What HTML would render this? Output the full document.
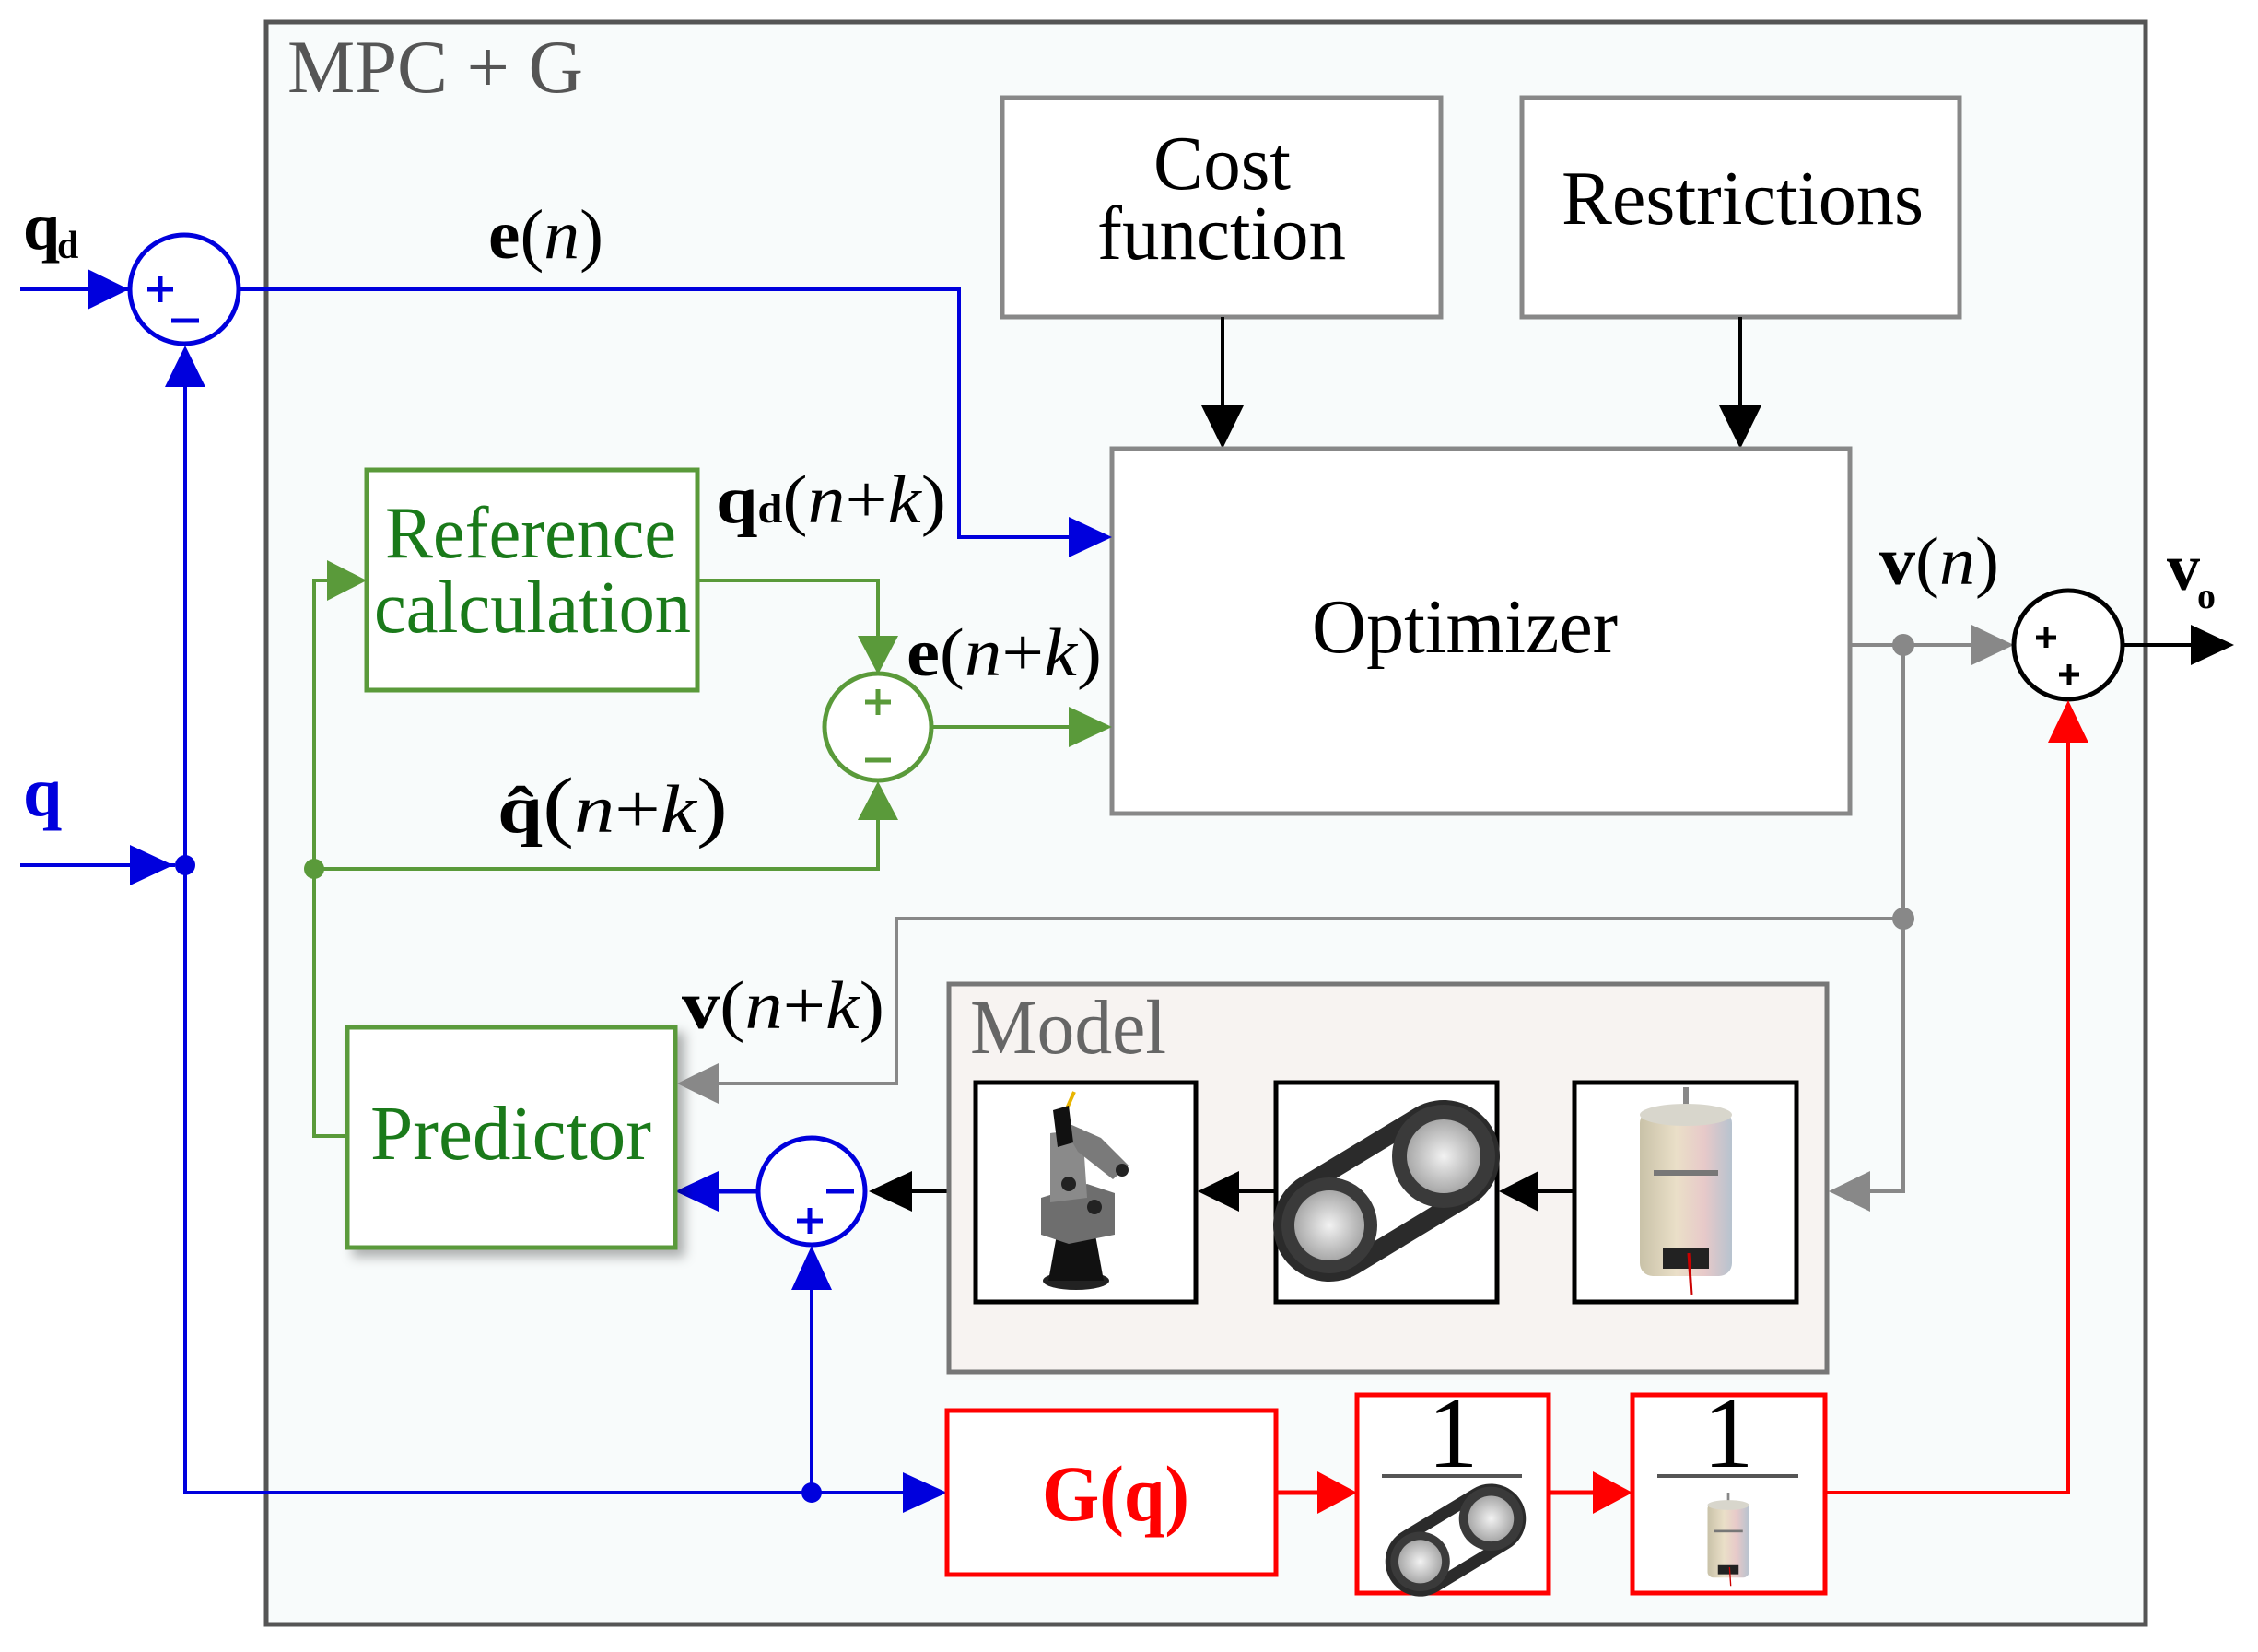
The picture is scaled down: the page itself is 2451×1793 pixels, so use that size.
<!DOCTYPE html>
<html><head><meta charset="utf-8"><style>
html,body{margin:0;padding:0;background:#fff}
svg{display:block}
text{font-family:"Liberation Serif","Times New Roman",serif}
</style></head><body>
<svg width="2451" height="1793" viewBox="0 0 2451 1793" xmlns="http://www.w3.org/2000/svg">
<defs>
<linearGradient id="mg" x1="0" x2="1" y1="0" y2="0">
<stop offset="0" stop-color="#c9c2a8"/><stop offset="0.4" stop-color="#eadfc8"/><stop offset="0.7" stop-color="#e7c9c9"/><stop offset="1" stop-color="#b7c3cf"/></linearGradient>
<radialGradient id="pg"><stop offset="0" stop-color="#f2f2f2"/><stop offset="1" stop-color="#a8a8a8"/></radialGradient>
<filter id="sh" x="-10%" y="-10%" width="130%" height="130%"><feDropShadow dx="8" dy="8" stdDeviation="6" flood-color="#000" flood-opacity="0.3"/></filter>
<g id="belt">
<line x1="-62" y1="40" x2="62" y2="-35" stroke="#2b2b2b" stroke-width="122" stroke-linecap="round"/>
<line x1="-62" y1="40" x2="62" y2="-35" stroke="#fff" stroke-width="80"/>
<circle cx="-62" cy="40" r="52" fill="#3a3a3a"/><circle cx="-62" cy="40" r="38" fill="url(#pg)"/>
<circle cx="62" cy="-35" r="56" fill="#3a3a3a"/><circle cx="62" cy="-35" r="40" fill="url(#pg)"/>
</g>
<g id="motor">
<rect x="-3" y="-120" width="6" height="40" fill="#888"/>
<rect x="-50" y="-95" width="100" height="180" rx="14" fill="url(#mg)"/>
<ellipse cx="0" cy="-90" rx="50" ry="12" fill="#d8d6cc"/>
<rect x="-35" y="-30" width="70" height="6" fill="#777"/>
<rect x="-25" y="55" width="50" height="22" fill="#222"/>
<line x1="3" y1="60" x2="6" y2="105" stroke="#c00" stroke-width="3"/>
</g>
</defs>

<rect x="289" y="24" width="2040" height="1739" fill="#f8fbfb" stroke="#555" stroke-width="5"/>
<text x="312" y="100" font-size="82" fill="#555" textLength="321" lengthAdjust="spacingAndGlyphs">MPC + G</text>

<rect x="1088" y="106" width="476" height="238" fill="#fff" stroke="#888" stroke-width="5"/>
<text x="1252" y="205" font-size="84" textLength="149" lengthAdjust="spacingAndGlyphs">Cost</text>
<text x="1191" y="281" font-size="84" textLength="270" lengthAdjust="spacingAndGlyphs">function</text>
<rect x="1652" y="106" width="475" height="238" fill="#fff" stroke="#888" stroke-width="5"/>
<text x="1695" y="243" font-size="84" textLength="393" lengthAdjust="spacingAndGlyphs">Restrictions</text>
<line x1="1327" y1="344" x2="1327" y2="450" stroke="#000" stroke-width="4"/>
<polygon points="1304,440 1350,440 1327,487" fill="#000"/>
<line x1="1889" y1="344" x2="1889" y2="450" stroke="#000" stroke-width="4"/>
<polygon points="1866,440 1912,440 1889,487" fill="#000"/>

<rect x="1207" y="487" width="801" height="396" fill="#fff" stroke="#888" stroke-width="5"/>
<text x="1424" y="708" font-size="84" textLength="332" lengthAdjust="spacingAndGlyphs">Optimizer</text>

<text x="25" y="270" font-size="72" font-weight="bold">q</text>
<text x="62" y="280" font-size="42" font-weight="bold">d</text>
<line x1="22" y1="314" x2="140" y2="314" stroke="#00d" stroke-width="4"/>
<polygon points="95,292 140,314 95,336" fill="#00d"/>
<circle cx="200" cy="314" r="59" fill="#fff" stroke="#00d" stroke-width="5"/>
<path d="M160 314h28M174 300v28M186 348h30" stroke="#00d" stroke-width="5"/>
<polyline points="259,314 1041,314 1041,583 1165,583" fill="none" stroke="#00d" stroke-width="4"/>
<polygon points="1160,561 1207,583 1160,605" fill="#00d"/>
<text x="530" y="280" font-size="76" textLength="125" lengthAdjust="spacingAndGlyphs"><tspan font-weight="bold">e</tspan>(<tspan font-style="italic">n</tspan>)</text>
<text x="25" y="885" font-size="76" font-weight="bold" fill="#00d">q</text>
<line x1="22" y1="939" x2="190" y2="939" stroke="#00d" stroke-width="4"/>
<polygon points="141,917 188,939 141,961" fill="#00d"/>
<circle cx="201" cy="939" r="11" fill="#00d"/>
<polyline points="201,420 201,1620 990,1620" fill="none" stroke="#00d" stroke-width="4"/>
<polygon points="179,420 223,420 201,375" fill="#00d"/>
<polygon points="980,1598 1028,1620 980,1642" fill="#00d"/>
<circle cx="881" cy="1620" r="11" fill="#00d"/>
<line x1="881" y1="1620" x2="881" y2="1395" stroke="#00d" stroke-width="4"/>
<polygon points="859,1400 903,1400 881,1352" fill="#00d"/>
<circle cx="881" cy="1293" r="58" fill="#fff" stroke="#00d" stroke-width="5"/>
<path d="M897 1293h30M865 1325h28M879 1311v28" stroke="#00d" stroke-width="5"/>
<line x1="823" y1="1293" x2="770" y2="1293" stroke="#00d" stroke-width="5"/>
<polygon points="780,1271 780,1315 733,1293" fill="#00d"/>
<line x1="1030" y1="1293" x2="980" y2="1293" stroke="#000" stroke-width="4"/>
<polygon points="990,1271 990,1315 943,1293" fill="#000"/>

<rect x="398" y="510" width="359" height="239" fill="#fff" stroke="#5a9a3a" stroke-width="5"/>
<text x="418" y="605" font-size="80" fill="#1a7a1a" textLength="316" lengthAdjust="spacingAndGlyphs">Reference</text>
<text x="406" y="686" font-size="80" fill="#1a7a1a" textLength="344" lengthAdjust="spacingAndGlyphs">calculation</text>
<text x="777" y="567" font-size="74" textLength="250" lengthAdjust="spacingAndGlyphs"><tspan font-weight="bold">q</tspan><tspan font-size="44" font-weight="bold">d</tspan>(<tspan font-style="italic">n</tspan>+<tspan font-style="italic">k</tspan>)</text>
<polyline points="757,630 953,630 953,700" fill="none" stroke="#5a9a3a" stroke-width="4"/>
<polygon points="931,690 975,690 953,732" fill="#5a9a3a"/>
<circle cx="953" cy="789" r="58" fill="#fff" stroke="#5a9a3a" stroke-width="5"/>
<path d="M939 762h28M953 748v28M939 825h28" stroke="#5a9a3a" stroke-width="5"/>
<line x1="1011" y1="789" x2="1165" y2="789" stroke="#5a9a3a" stroke-width="4"/>
<polygon points="1160,767 1207,789 1160,811" fill="#5a9a3a"/>
<text x="984" y="733" font-size="74" textLength="212" lengthAdjust="spacingAndGlyphs"><tspan font-weight="bold">e</tspan>(<tspan font-style="italic">n</tspan>+<tspan font-style="italic">k</tspan>)</text>
<polyline points="377,1233 341,1233 341,630 360,630" fill="none" stroke="#5a9a3a" stroke-width="4"/>
<polygon points="355,608 398,630 355,652" fill="#5a9a3a"/>
<circle cx="341" cy="943" r="11" fill="#5a9a3a"/>
<polyline points="341,943 953,943 953,880" fill="none" stroke="#5a9a3a" stroke-width="4"/>
<polygon points="931,890 975,890 953,848" fill="#5a9a3a"/>
<text x="540" y="903" font-size="74" textLength="250" lengthAdjust="spacingAndGlyphs"><tspan font-weight="bold">q̂</tspan><tspan font-size="86">(</tspan><tspan font-style="italic">n</tspan>+<tspan font-style="italic">k</tspan><tspan font-size="86">)</tspan></text>

<rect x="377" y="1115" width="356" height="239" fill="#fff" stroke="#5a9a3a" stroke-width="5" filter="url(#sh)"/>
<text x="402" y="1258" font-size="84" fill="#1a7a1a" textLength="305" lengthAdjust="spacingAndGlyphs">Predictor</text>

<line x1="2008" y1="700" x2="2150" y2="700" stroke="#888" stroke-width="4"/>
<polygon points="2140,678 2186,700 2140,722" fill="#888"/>
<circle cx="2066" cy="700" r="12" fill="#888"/>
<polyline points="2066,700 2066,1293 2020,1293" fill="none" stroke="#888" stroke-width="4"/>
<polygon points="2030,1271 2030,1315 1985,1293" fill="#888"/>
<circle cx="2066" cy="997" r="12" fill="#888"/>
<polyline points="2066,997 973,997 973,1176 770,1176" fill="none" stroke="#888" stroke-width="4"/>
<polygon points="780,1154 780,1198 735,1176" fill="#888"/>
<text x="2040" y="634" font-size="74" textLength="130" lengthAdjust="spacingAndGlyphs"><tspan font-weight="bold">v</tspan>(<tspan font-style="italic">n</tspan>)</text>
<text x="740" y="1116" font-size="74" textLength="220" lengthAdjust="spacingAndGlyphs"><tspan font-weight="bold">v</tspan>(<tspan font-style="italic">n</tspan>+<tspan font-style="italic">k</tspan>)</text>
<circle cx="2245" cy="700" r="59" fill="#fff" stroke="#000" stroke-width="5"/>
<path d="M2210 692h22M2221 681v22M2235 732h22M2246 721v22" stroke="#000" stroke-width="5"/>
<line x1="2304" y1="700" x2="2385" y2="700" stroke="#000" stroke-width="4"/>
<polygon points="2378,678 2425,700 2378,722" fill="#000"/>
<text x="2352" y="640" font-size="72" font-weight="bold">v</text>
<text x="2385" y="660" font-size="40" font-weight="bold">o</text>

<rect x="1030" y="1068" width="953" height="421" fill="#f7f3f1" stroke="#777" stroke-width="5"/>
<text x="1053" y="1143" font-size="84" fill="#666" textLength="213" lengthAdjust="spacingAndGlyphs">Model</text>
<rect x="1059" y="1175" width="239" height="238" fill="#fff" stroke="#000" stroke-width="5"/>
<rect x="1385" y="1175" width="240" height="238" fill="#fff" stroke="#000" stroke-width="5"/>
<rect x="1709" y="1175" width="241" height="238" fill="#fff" stroke="#000" stroke-width="5"/>
<line x1="1385" y1="1293" x2="1340" y2="1293" stroke="#000" stroke-width="4"/>
<polygon points="1345,1271 1345,1315 1300,1293" fill="#000"/>
<line x1="1709" y1="1293" x2="1665" y2="1293" stroke="#000" stroke-width="4"/>
<polygon points="1670,1271 1670,1315 1627,1293" fill="#000"/>
<g>
<line x1="1166" y1="1185" x2="1155" y2="1210" stroke="#e8b400" stroke-width="4"/>
<ellipse cx="1168" cy="1390" rx="36" ry="10" fill="#222"/>
<polygon points="1148,1335 1188,1335 1198,1390 1138,1390" fill="#111"/>
<polygon points="1130,1300 1180,1285 1210,1295 1210,1340 1160,1350 1130,1340" fill="#6e6e6e"/>
<polygon points="1140,1230 1175,1225 1180,1300 1140,1305" fill="#8a8a8a"/>
<polygon points="1150,1215 1195,1235 1225,1265 1208,1280 1170,1250" fill="#7a7a7a"/>
<circle cx="1160" cy="1285" r="8" fill="#222"/><circle cx="1188" cy="1310" r="8" fill="#222"/><circle cx="1218" cy="1270" r="7" fill="#222"/>
<polygon points="1143,1205 1160,1200 1165,1240 1148,1245" fill="#111"/>
</g>
<use href="#belt" x="1505" y="1290"/>
<use href="#motor" x="1830" y="1300"/>

<rect x="1028" y="1531" width="357" height="178" fill="#fff" stroke="#f00" stroke-width="5"/>
<text x="1131" y="1650" font-size="86" font-weight="bold" fill="#f00" textLength="160" lengthAdjust="spacingAndGlyphs">G(q)</text>
<rect x="1473" y="1514" width="208" height="215" fill="#fff" stroke="#f00" stroke-width="5"/>
<rect x="1772" y="1514" width="209" height="215" fill="#fff" stroke="#f00" stroke-width="5"/>
<text x="1577" y="1592" font-size="110" text-anchor="middle">1</text>
<text x="1876" y="1592" font-size="110" text-anchor="middle">1</text>
<line x1="1500" y1="1602" x2="1652" y2="1602" stroke="#555" stroke-width="4"/>
<line x1="1799" y1="1602" x2="1952" y2="1602" stroke="#555" stroke-width="4"/>
<use href="#belt" transform="translate(1580,1670) scale(0.62)"/>
<use href="#motor" transform="translate(1876,1674) scale(0.45)"/>
<line x1="1385" y1="1620" x2="1440" y2="1620" stroke="#f00" stroke-width="5"/>
<polygon points="1430,1597 1473,1620 1430,1643" fill="#f00"/>
<line x1="1681" y1="1620" x2="1740" y2="1620" stroke="#f00" stroke-width="5"/>
<polygon points="1729,1597 1772,1620 1729,1643" fill="#f00"/>
<polyline points="1981,1620 2245,1620 2245,800" fill="none" stroke="#f00" stroke-width="4"/>
<polygon points="2223,806 2267,806 2245,760" fill="#f00"/>
</svg>
</body></html>
